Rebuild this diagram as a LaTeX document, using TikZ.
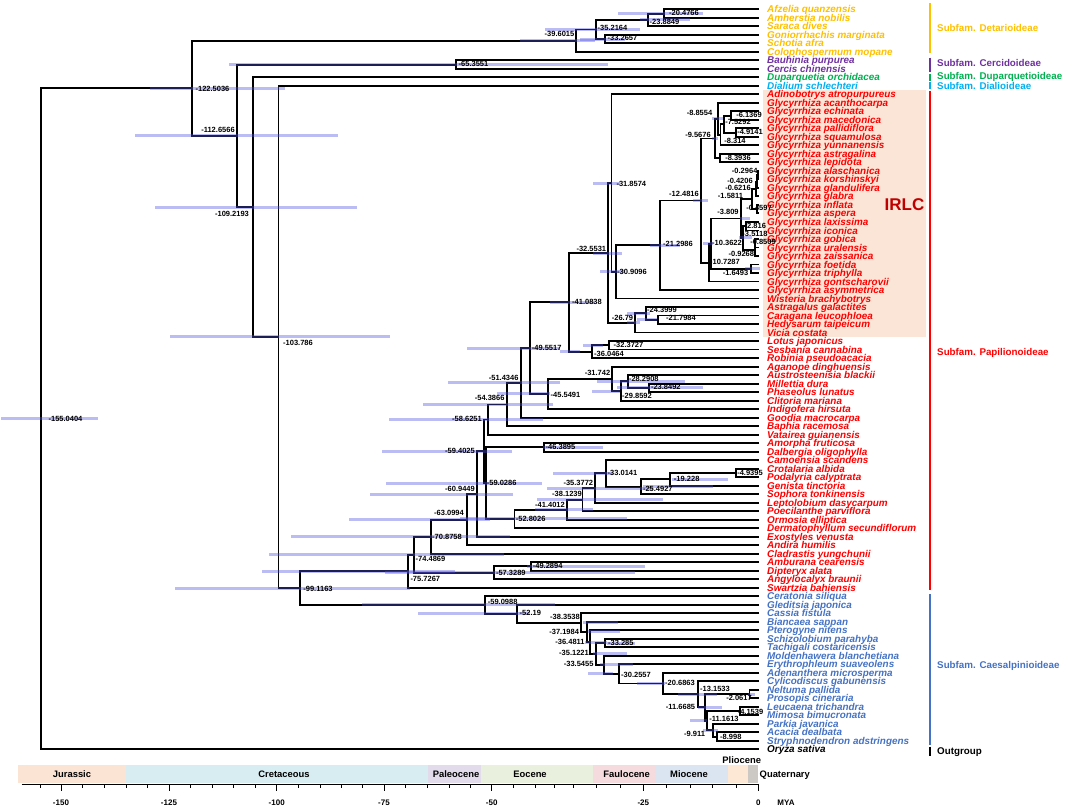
\documentclass[tikz,border=0pt]{standalone}
\usepackage{fontspec}
\setmainfont{Liberation Sans}
\usetikzlibrary{calc}
\definecolor{det}{RGB}{255,192,0}
\definecolor{cer}{RGB}{112,48,160}
\definecolor{dup}{RGB}{0,176,80}
\definecolor{dia}{RGB}{0,176,240}
\definecolor{pap}{RGB}{255,0,0}
\definecolor{cae}{RGB}{68,114,196}
\definecolor{irlcbg}{RGB}{251,229,214}
\definecolor{irlc}{RGB}{192,0,0}
\definecolor{hpdc}{RGB}{80,80,230}
\definecolor{bJur}{RGB}{251,228,212}
\definecolor{bCre}{RGB}{216,237,241}
\definecolor{bPal}{RGB}{226,219,235}
\definecolor{bEoc}{RGB}{233,240,222}
\definecolor{bFau}{RGB}{245,219,221}
\definecolor{bMio}{RGB}{219,229,241}
\definecolor{bPli}{RGB}{253,232,214}
\definecolor{bQua}{RGB}{204,200,196}
\tikzset{
  leaf/.style={font=\bfseries\itshape\fontsize{9.9}{10}\selectfont, anchor=west, inner sep=0pt, text height=7.1pt, text depth=0pt},
  agel/.style={font=\bfseries\fontsize{7.5}{8}\selectfont, inner sep=0pt, text height=5.3pt, text depth=0pt},
  subf/.style={font=\bfseries\fontsize{9.8}{10}\selectfont, anchor=west, inner sep=0pt, text height=7pt, text depth=0pt},
  bandl/.style={font=\bfseries\fontsize{9.4}{10}\selectfont, inner sep=0pt, text height=6.8pt, text depth=0pt},
  axl/.style={font=\bfseries\fontsize{8}{9}\selectfont, inner sep=0pt, text height=5.8pt, text depth=0pt},
  br/.style={line width=1.9pt, black},
  hpdbar/.style={line width=3pt, draw=hpdc, draw opacity=0.38},
  sfbar/.style={line width=2.6pt},
}
\newcommand\lf[3]{%
  \coordinate (L#1) at (759,{9.3+(#1-1)*8.506});
  \node[leaf,text=#2] (T#1) at (767,{9.3+(#1-1)*8.506}) {#3};}
\newcommand\tn[4]{%
  \path let \p1=(#3), \p2=(#4) in coordinate (#1) at ({(759+4.63*(#2))*1pt},{0.5*(\y1)+0.5*(\y2)});
  \draw[br] (#3) -| (#1) |- (#4);}
\newcommand\hb[3]{\draw[hpdbar] let \p1=(#1) in ({#2*1pt},\y1) -- ({#3*1pt},\y1);}
\newcommand\al[4]{\node[agel] (a-#1) at (#2,#3) {#4};}
\begin{document}
\begin{tikzpicture}[x=1pt,y=-1pt]
\useasboundingbox (0,0) rectangle (1065,808);
% IRLC box
\fill[irlcbg] (763,90) rectangle (926,337);
\node[font=\bfseries\fontsize{17}{18}\selectfont, text=irlc, inner sep=0pt] (irlc) at (904.5,205) {IRLC};
% leaves
\lf{1}{det}{Afzelia quanzensis}
\lf{2}{det}{Amherstia nobilis}
\lf{3}{det}{Saraca dives}
\lf{4}{det}{Goniorrhachis marginata}
\lf{5}{det}{Schotia afra}
\lf{6}{det}{Colophospermum mopane}
\lf{7}{cer}{Bauhinia purpurea}
\lf{8}{cer}{Cercis chinensis}
\lf{9}{dup}{Duparquetia orchidacea}
\lf{10}{dia}{Dialium schlechteri}
\lf{11}{pap}{Adinobotrys atropurpureus}
\lf{12}{pap}{Glycyrrhiza acanthocarpa}
\lf{13}{pap}{Glycyrrhiza echinata}
\lf{14}{pap}{Glycyrrhiza macedonica}
\lf{15}{pap}{Glycyrrhiza pallidiflora}
\lf{16}{pap}{Glycyrrhiza squamulosa}
\lf{17}{pap}{Glycyrrhiza yunnanensis}
\lf{18}{pap}{Glycyrrhiza astragalina}
\lf{19}{pap}{Glycyrrhiza lepidota}
\lf{20}{pap}{Glycyrrhiza alaschanica}
\lf{21}{pap}{Glycyrrhiza korshinskyi}
\lf{22}{pap}{Glycyrrhiza glandulifera}
\lf{23}{pap}{Glycyrrhiza glabra}
\lf{24}{pap}{Glycyrrhiza inflata}
\lf{25}{pap}{Glycyrrhiza aspera}
\lf{26}{pap}{Glycyrrhiza laxissima}
\lf{27}{pap}{Glycyrrhiza iconica}
\lf{28}{pap}{Glycyrrhiza gobica}
\lf{29}{pap}{Glycyrrhiza uralensis}
\lf{30}{pap}{Glycyrrhiza zaissanica}
\lf{31}{pap}{Glycyrrhiza foetida}
\lf{32}{pap}{Glycyrrhiza triphylla}
\lf{33}{pap}{Glycyrrhiza gontscharovii}
\lf{34}{pap}{Glycyrrhiza asymmetrica}
\lf{35}{pap}{Wisteria brachybotrys}
\lf{36}{pap}{Astragalus galactites}
\lf{37}{pap}{Caragana leucophloea}
\lf{38}{pap}{Hedysarum taipeicum}
\lf{39}{pap}{Vicia costata}
\lf{40}{pap}{Lotus japonicus}
\lf{41}{pap}{Sesbania cannabina}
\lf{42}{pap}{Robinia pseudoacacia}
\lf{43}{pap}{Aganope dinghuensis}
\lf{44}{pap}{Austrosteenisia blackii}
\lf{45}{pap}{Millettia dura}
\lf{46}{pap}{Phaseolus lunatus}
\lf{47}{pap}{Clitoria mariana}
\lf{48}{pap}{Indigofera hirsuta}
\lf{49}{pap}{Goodia macrocarpa}
\lf{50}{pap}{Baphia racemosa}
\lf{51}{pap}{Vatairea guianensis}
\lf{52}{pap}{Amorpha fruticosa}
\lf{53}{pap}{Dalbergia oligophylla}
\lf{54}{pap}{Camoensia scandens}
\lf{55}{pap}{Crotalaria albida}
\lf{56}{pap}{Podalyria calyptrata}
\lf{57}{pap}{Genista tinctoria}
\lf{58}{pap}{Sophora tonkinensis}
\lf{59}{pap}{Leptolobium dasycarpum}
\lf{60}{pap}{Poecilanthe parviflora}
\lf{61}{pap}{Ormosia elliptica}
\lf{62}{pap}{Dermatophyllum secundiflorum}
\lf{63}{pap}{Exostyles venusta}
\lf{64}{pap}{Andira humilis}
\lf{65}{pap}{Cladrastis yungchunii}
\lf{66}{pap}{Amburana cearensis}
\lf{67}{pap}{Dipteryx alata}
\lf{68}{pap}{Angylocalyx braunii}
\lf{69}{pap}{Swartzia bahiensis}
\lf{70}{cae}{Ceratonia siliqua}
\lf{71}{cae}{Gleditsia japonica}
\lf{72}{cae}{Cassia fistula}
\lf{73}{cae}{Biancaea sappan}
\lf{74}{cae}{Pterogyne nitens}
\lf{75}{cae}{Schizolobium parahyba}
\lf{76}{cae}{Tachigali costaricensis}
\lf{77}{cae}{Moldenhawera blanchetiana}
\lf{78}{cae}{Erythrophleum suaveolens}
\lf{79}{cae}{Adenanthera microsperma}
\lf{80}{cae}{Cylicodiscus gabunensis}
\lf{81}{cae}{Neltuma pallida}
\lf{82}{cae}{Prosopis cineraria}
\lf{83}{cae}{Leucaena trichandra}
\lf{84}{cae}{Mimosa bimucronata}
\lf{85}{cae}{Parkia javanica}
\lf{86}{cae}{Acacia dealbata}
\lf{87}{cae}{Stryphnodendron adstringens}
\lf{88}{black}{Oryza sativa}
% tree
\tn{n1}{-20.4766}{L1}{L2}
\tn{n2}{-23.8849}{n1}{L3}
\tn{n3}{-33.2657}{L4}{L5}
\tn{n4}{-35.2164}{n2}{n3}
\tn{n5}{-39.6015}{n4}{L6}
\tn{n6}{-65.3551}{L7}{L8}
\tn{g1}{-6.1369}{L13}{L14}
\tn{g2}{-4.9141}{L15}{L16}
\tn{g3}{-7.5292}{g1}{g2}
\tn{g4}{-8.314}{g3}{L17}
\tn{g5}{-8.8554}{L12}{g4}
\tn{g6}{-8.3936}{L18}{L19}
\tn{g7}{-9.5676}{g5}{g6}
\tn{g8}{-0.2964}{L20}{L21}
\tn{g9}{-0.4206}{g8}{L22}
\tn{g10}{-0.6216}{g9}{L23}
\tn{g11}{-0.4597}{L24}{L25}
\tn{g12}{-1.5811}{g10}{g11}
\tn{g13}{-2.816}{L26}{L27}
\tn{g14}{-0.8509}{L28}{L29}
\tn{g15}{-0.9268}{g14}{L30}
\tn{g16}{-3.5118}{g13}{g15}
\tn{g17}{-3.809}{g12}{g16}
\tn{g18}{-1.6493}{L31}{L32}
\tn{g19}{-10.3622}{g17}{g18}
\tn{g20}{-10.7287}{g19}{L33}
\tn{g21}{-12.4816}{g7}{g20}
\tn{g22}{-21.2986}{g21}{L34}
\tn{g23}{-30.9096}{g22}{L35}
\tn{g24}{-31.8574}{L11}{g23}
\tn{p1}{-21.7984}{L37}{L38}
\tn{p2}{-24.3999}{L36}{p1}
\tn{p3}{-26.79}{p2}{L39}
\tn{p4}{-32.5531}{g24}{p3}
\tn{p5}{-32.3727}{L40}{L41}
\tn{p6}{-36.0464}{p5}{L42}
\tn{p7}{-41.0838}{p4}{p6}
\tn{p8}{-23.8492}{L45}{L46}
\tn{p9}{-28.2908}{L44}{p8}
\tn{p10}{-29.8592}{p9}{L47}
\tn{p11}{-31.742}{L43}{p10}
\tn{p12}{-45.5491}{p11}{L48}
\tn{p13}{-49.5517}{p7}{p12}
\tn{p14}{-51.4346}{p13}{L49}
\tn{p15}{-54.3866}{p14}{L50}
\tn{p16}{-58.6251}{p15}{L51}
\tn{p17}{-46.3895}{L52}{L53}
\tn{p18}{-4.9395}{L55}{L56}
\tn{p19}{-19.228}{p18}{L57}
\tn{p20}{-25.4927}{p19}{L58}
\tn{p21}{-33.0141}{L54}{p20}
\tn{p22}{-35.3772}{p21}{L59}
\tn{p23}{-38.1239}{p22}{L60}
\tn{p24}{-41.4012}{p23}{L61}
\tn{p25}{-52.8026}{p24}{L62}
\tn{p26}{-59.0286}{p17}{p25}
\tn{p27}{-59.4025}{p16}{p26}
\tn{p28}{-60.9449}{p27}{L63}
\tn{p29}{-63.0994}{p28}{L64}
\tn{p30}{-70.8758}{p29}{L65}
\tn{p31}{-49.2894}{L66}{L67}
\tn{p32}{-57.3289}{p31}{L68}
\tn{p33}{-74.4869}{p30}{p32}
\tn{p34}{-75.7267}{p33}{L69}
\tn{c1}{-8.998}{L86}{L87}
\tn{c2}{-9.911}{L85}{c1}
\tn{c3}{-4.1539}{L83}{L84}
\tn{c4}{-11.1613}{c3}{c2}
\tn{c5}{-2.0617}{L81}{L82}
\tn{c6}{-11.6685}{c5}{c4}
\tn{c7}{-13.1533}{L80}{c6}
\tn{c8}{-20.6863}{L79}{c7}
\tn{c9}{-30.2557}{L78}{c8}
\tn{c10}{-33.5455}{L77}{c9}
\tn{c11}{-33.285}{L75}{L76}
\tn{c12}{-35.1221}{c11}{c10}
\tn{c13}{-36.4811}{L74}{c12}
\tn{c14}{-37.1984}{L73}{c13}
\tn{c15}{-38.3538}{L72}{c14}
\tn{c16}{-52.19}{L71}{c15}
\tn{c17}{-59.0988}{L70}{c16}
\tn{b1}{-99.1163}{p34}{c17}
\tn{b2}{-103.786}{L10}{b1}
\tn{b3}{-109.2193}{L9}{b2}
\tn{b4}{-112.6566}{n6}{b3}
\tn{b5}{-122.5036}{n5}{b4}
\tn{root}{-155.0404}{b5}{L88}
% HPD bars
\hb{n1}{618}{703}\hb{n2}{640}{690}\hb{n3}{580}{625}\hb{n4}{545}{640}\hb{n5}{520}{595}
\hb{n6}{229}{608}\hb{b5}{150}{285}\hb{b4}{135}{338}\hb{b3}{155}{357}\hb{b2}{170}{390}
\hb{b1}{175}{410}\hb{root}{1}{98}
\hb{g24}{593}{620}\hb{p4}{593}{622}\hb{g23}{600}{625}\hb{g22}{650}{680}\hb{g21}{693}{708}
\hb{g7}{712}{718}\hb{g5}{712}{723}\hb{g19}{703}{713}\hb{g17}{740}{750}\hb{g16}{739}{752}\hb{g18}{745}{760}
\hb{p7}{550}{595}\hb{p3}{627}{640}\hb{p2}{627}{650}\hb{p1}{637}{657}\hb{p13}{467}{560}
\hb{p6}{560}{580}\hb{p5}{583}{603}\hb{p14}{448}{560}\hb{p9}{597}{685}\hb{p8}{617}{703}
\hb{p10}{592}{620}\hb{p12}{497}{550}\hb{p15}{423}{553}\hb{p16}{389}{543}\hb{p27}{382}{512}
\hb{p17}{543}{603}\hb{p26}{386}{542}\hb{p28}{370}{513}\hb{p29}{349}{490}\hb{p30}{291}{510}
\hb{p33}{269}{504}\hb{p34}{262}{455}\hb{p32}{385}{635}\hb{p31}{527}{645}\hb{p25}{460}{627}
\hb{p24}{535}{593}\hb{p23}{537}{663}\hb{p22}{547}{653}\hb{p21}{553}{613}\hb{p20}{643}{713}
\hb{p19}{672}{728}
\hb{c17}{362}{555}\hb{c16}{418}{530}\hb{c15}{583}{618}\hb{c14}{588}{620}\hb{c13}{585}{607}
\hb{c11}{607}{635}\hb{c12}{593}{627}\hb{c10}{600}{633}\hb{c9}{588}{613}\hb{c8}{637}{665}
\hb{c7}{678}{717}\hb{c6}{698}{722}\hb{c4}{690}{707}\hb{c2}{703}{718}\hb{c5}{748}{755}
% age labels
\al{n1}{684}{12.7}{-20.4766}
\al{n2}{664.5}{22.3}{-23.8849}
\al{n4}{612.5}{28.3}{-35.2164}
\al{n3}{622.5}{38.3}{-33.2657}
\al{n5}{559.5}{34.3}{-39.6015}
\al{n6}{473.5}{64}{-65.3551}
\al{b5}{212.5}{88.7}{-122.5036}
\al{root}{65.5}{419}{-155.0404}
\al{b4}{218}{130}{-112.6566}
\al{b3}{232}{214}{-109.2193}
\al{b2}{298}{343}{-103.786}
\al{b1}{318}{589}{-99.1163}
\al{g5}{699.5}{112.7}{-8.8554}
\al{g7}{698}{135}{-9.5676}
\al{g1}{749}{115}{-6.1369}
\al{g3}{738}{122.3}{-7.5292}
\al{g2}{750}{131.7}{-4.9141}
\al{g4}{735}{140.7}{-8.314}
\al{g6}{738}{157.7}{-8.3936}
\al{g8}{744.7}{171}{-0.2964}
\al{g9}{740}{180.7}{-0.4206}
\al{g10}{738}{188.3}{-0.6216}
\al{g12}{730.5}{196}{-1.5811}
\al{g21}{684}{194.3}{-12.4816}
\al{g24}{631.3}{184}{-31.8574}
\al{g11}{759}{207.7}{-0.4597}
\al{g17}{728}{212}{-3.809}
\al{g13}{755.3}{226}{-2.816}
\al{g16}{755}{234.3}{-3.5118}
\al{g19}{727}{242.7}{-10.3622}
\al{g14}{763}{242.3}{-0.8509}
\al{g15}{741.3}{254.3}{-0.9268}
\al{g20}{725}{261.7}{-10.7287}
\al{g18}{735.5}{273}{-1.6493}
\al{g22}{678}{244.3}{-21.2986}
\al{p4}{591.3}{249.3}{-32.5531}
\al{g23}{632}{272.3}{-30.9096}
\al{p7}{587}{302.3}{-41.0838}
\al{p2}{662}{310}{-24.3999}
\al{p3}{622.5}{318.3}{-26.79}
\al{p1}{681}{318.3}{-21.7984}
\al{p5}{628.5}{345}{-32.3727}
\al{p6}{609}{354}{-36.0464}
\al{p13}{546.7}{348.3}{-49.5517}
\al{p14}{503.7}{377.7}{-51.4346}
\al{p11}{597.5}{373.3}{-31.742}
\al{p9}{643.8}{379}{-28.2908}
\al{p8}{665.8}{387.3}{-23.8492}
\al{p10}{637}{396}{-29.8592}
\al{p12}{565.5}{395}{-45.5491}
\al{p15}{489.7}{398.3}{-54.3866}
\al{p16}{467}{419.3}{-58.6251}
\al{p27}{460}{451}{-59.4025}
\al{p17}{560.5}{447.3}{-46.3895}
\al{p26}{501.7}{483.3}{-59.0286}
\al{p21}{622.5}{473.3}{-33.0141}
\al{p19}{686.7}{479.3}{-19.228}
\al{p18}{750}{472.7}{-4.9395}
\al{p22}{578.3}{482.7}{-35.3772}
\al{p20}{657.8}{489.3}{-25.4927}
\al{p23}{567}{494.3}{-38.1239}
\al{p28}{460}{489}{-60.9449}
\al{p24}{550}{505}{-41.4012}
\al{p25}{530.7}{519.3}{-52.8026}
\al{p29}{449}{513.3}{-63.0994}
\al{p30}{447}{536.7}{-70.8758}
\al{p33}{430.5}{559.3}{-74.4869}
\al{p31}{547.7}{565.7}{-49.2894}
\al{p32}{510.8}{572.7}{-57.3289}
\al{p34}{425.3}{579.3}{-75.7267}
\al{c17}{502.7}{602.3}{-59.0988}
\al{c16}{530.3}{613.3}{-52.19}
\al{c15}{565}{617.3}{-38.3538}
\al{c14}{564.2}{631.7}{-37.1984}
\al{c13}{570}{642.3}{-36.4811}
\al{c11}{620.8}{642.7}{-33.285}
\al{c12}{574}{653.3}{-35.1221}
\al{c10}{578.7}{664}{-33.5455}
\al{c9}{636}{675}{-30.2557}
\al{c8}{680}{683.3}{-20.6863}
\al{c7}{715}{689}{-13.1533}
\al{c5}{739}{697.7}{-2.0617}
\al{c6}{680.5}{707.3}{-11.6685}
\al{c3}{750.5}{711.7}{-4.1539}
\al{c4}{724}{719}{-11.1613}
\al{c2}{694.5}{734}{-9.911}
\al{c1}{730.8}{736.7}{-8.998}
% subfamily bars
\draw[sfbar,det] (930,3) coordinate (sd1) -- (930,53) coordinate (sd2);
\draw[sfbar,cer] (930,57.7) coordinate (sc1) -- (930,72) coordinate (sc2);
\draw[sfbar,dup] (930,74) coordinate (su1) -- (930,81) coordinate (su2);
\draw[sfbar,dia] (930,82) coordinate (sa1) -- (930,89) coordinate (sa2);
\draw[sfbar,pap] (930,91) coordinate (sp1) -- (930,590) coordinate (sp2);
\draw[sfbar,cae] (930,594.3) coordinate (sk1) -- (930,745) coordinate (sk2);
\draw[sfbar,black] (930,746.7) coordinate (so1) -- (930,755.5) coordinate (so2);
\node[subf,text=det] (sf1) at (937,28.3) {Subfam. Detarioideae};
\node[subf,text=cer] (sf2) at (937,63.3) {Subfam. Cercidoideae};
\node[subf,text=dup] (sf3) at (937,76) {Subfam. Duparquetioideae};
\node[subf,text=dia] (sf4) at (937,86) {Subfam. Dialioideae};
\node[subf,text=pap] (sf5) at (937,352) {Subfam. Papilionoideae};
\node[subf,text=cae] (sf6) at (937,665) {Subfam. Caesalpinioideae};
\node[subf,text=black] (sf7) at (937,751) {Outgroup};
% geological bands
\fill[bJur] (18.3,765) rectangle (126,783.3);
\fill[bCre] (126,765) rectangle (427.7,783.3);
\fill[bPal] (427.7,765) rectangle (480.7,783.3);
\fill[bEoc] (480.7,765) rectangle (593.3,783.3);
\fill[bFau] (593.3,765) rectangle (655.7,783.3);
\fill[bMio] (655.7,765) rectangle (728.3,783.3);
\fill[bPli] (728.3,765) rectangle (748.3,783.3);
\fill[bQua] (748.3,765) rectangle (758.3,783.3);
\node[bandl] (bl1) at (72,774) {Jurassic};
\node[bandl] (bl2) at (284,774) {Cretaceous};
\node[bandl] (bl3) at (456,774) {Paleocene};
\node[bandl] (bl4) at (530,774) {Eocene};
\node[bandl] (bl5) at (626.7,774) {Faulocene};
\node[bandl] (bl6) at (689,774) {Miocene};
\node[bandl] (bl7) at (741.7,760) {Pliocene};
\node[bandl,anchor=west] (bl8) at (759.5,774) {Quaternary};
% axis
\draw[line width=0.9pt] (21.7,784.3) coordinate (ax0) -- (758.3,784.3) coordinate (ax1);
\foreach \t in {40,82.7,104.3,126,147.7,190.7,212.3,233.7,255.3,298.3,320,341,362.7,405.7,427.3,449,470.7,513.3,535,554,573.3,596.7,620,666.7,690,712.7,736}
  \draw[line width=0.8pt] (\t,784.3) -- (\t,787.5);
\foreach \t/\l in {61/-150,169/-125,276.7/-100,384/-75,491.7/-50,643.3/-25,758.3/0}{
  \draw[line width=0.8pt] (\t,784.3) -- (\t,790.5);
  \node[axl] at (\t,802.7) {\l};}
\node[axl] (mya) at (786,802.7) {MYA};
\end{tikzpicture}
\end{document}
